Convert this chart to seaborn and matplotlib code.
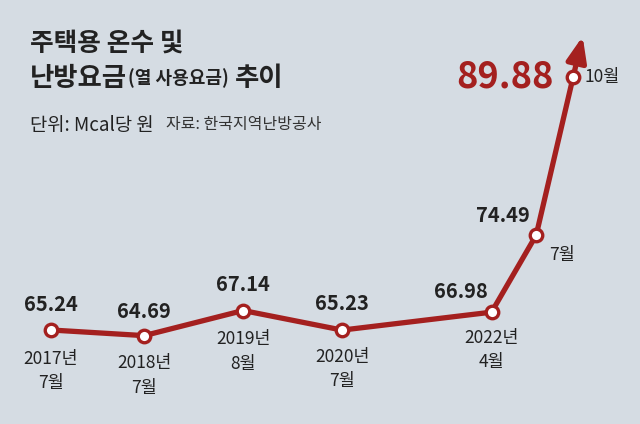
import numpy as np
import pandas as pd
import seaborn as sns
import matplotlib.pyplot as plt

# 데이터 (Mcal당 원)
periods = ['2017년\n7월', '2018년\n7월', '2019년\n8월', '2020년\n7월', '2022년\n4월', '7월', '10월']
price = [65.24, 64.69, 67.14, 65.23, 66.98, 74.49, 89.88]
# x spacing of the points as drawn in the picture (not to time scale)
x_slot = [0, 0.96, 1.98, 3.0, 4.54, 5.0, 5.38]

red = '#a4201f'
bg = '#d5dce3'
ink = '#222222'

sns.set_theme(style='white')
plt.rcParams['font.family'] = ['Noto Sans CJK KR', 'DejaVu Sans']

df = pd.DataFrame({'x': x_slot, 'price': price, 'period': periods})

fig = plt.figure(figsize=(6.4, 4.24), dpi=100, facecolor=bg)
ax = fig.add_axes([0, 0, 1, 1])
ax.set_facecolor(bg)

sns.lineplot(data=df, x='x', y='price', color=red, lw=3.8, marker='o',
             markersize=9, markerfacecolor='white', markeredgecolor=red,
             markeredgewidth=2.4, ax=ax, zorder=3)

# arrow continuing past the last point
x0, y0 = df['x'].iloc[-2], df['price'].iloc[-2]
x1, y1 = df['x'].iloc[-1], df['price'].iloc[-1]
tip = (x1 + 0.26 * (x1 - x0), y1 + 0.26 * (y1 - y0))
ax.annotate('', xy=tip, xytext=(x1, y1), zorder=2,
            arrowprops=dict(arrowstyle='-|>,head_length=0.6,head_width=0.24',
                            color=red, lw=3.8, mutation_scale=25,
                            shrinkA=0, shrinkB=0))

ax.set_xlim(-0.526, 6.07)
ax.set_ylim(56.07, 97.43)
ax.axis('off')

# value labels
val_off = [(0, 18), (0, 17.5), (0, 19), (0, 19.5), (-22, 15), (-24, 14), (-14, 0)]
val_ha = ['center'] * 6 + ['right']
for i, row_ in df.iterrows():
    big = i == len(df) - 1
    ax.annotate(f"{row_['price']:.2f}", (row_['x'], row_['price']),
                xytext=val_off[i], textcoords='offset points',
                ha=val_ha[i], va='center',
                fontsize=26 if big else 14.5, fontweight='bold',
                color=red if big else ink)

# period labels
per_off = [(0, -29.5), (0, -28.8), (0, -29.5), (0, -28), (0, -27.4), (18.7, -14.4), (8.6, 0)]
per_ha = ['center'] * 6 + ['left']
for i, row_ in df.iterrows():
    ax.annotate(row_['period'], (row_['x'], row_['price']),
                xytext=per_off[i], textcoords='offset points',
                ha=per_ha[i], va='center', fontsize=12.5, color=ink,
                linespacing=1.45, multialignment='center')


def row(x, y, parts):
    r = fig.canvas.get_renderer()
    for s, size, weight, color, gap in parts:
        x += gap
        t = fig.text(x / 640, 1 - y / 424, s, fontsize=size, fontweight=weight,
                     color=color, ha='left', va='center')
        x = t.get_window_extent(r).x1


row(30, 43, [('주택용 온수 및', 18.5, 'bold', ink, 0)])
row(30, 78, [('난방요금', 19, 'bold', ink, 0),
             ('(열 사용요금)', 13, 'bold', ink, 1),
             ('추이', 19, 'bold', ink, 6)])
row(30, 125, [('단위: Mcal당 원', 13.5, 'medium', ink, 0),
              ('자료: 한국지역난방공사', 11.5, 'normal', '#333333', 12)])

fig.savefig('out.png', dpi=100, facecolor=bg)
